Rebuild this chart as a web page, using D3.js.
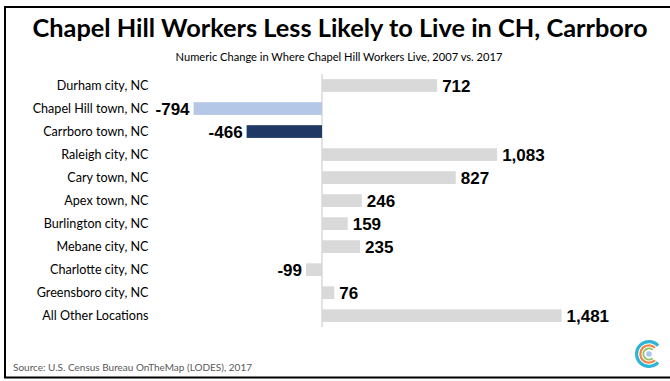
<!DOCTYPE html>
<html>
<head>
<meta charset="utf-8">
<script src="https://cdn.jsdelivr.net/npm/d3@7"></script>
<style>
  html, body { margin: 0; padding: 0; background: #fff; }
  svg { display: block; }
</style>
</head>
<body>
<svg id="chart" width="670" height="381"></svg>
<script>
// ---- data ----
const categories = [
  "Durham city, NC",
  "Chapel Hill town, NC",
  "Carrboro town, NC",
  "Raleigh city, NC",
  "Cary town, NC",
  "Apex town, NC",
  "Burlington city, NC",
  "Mebane city, NC",
  "Charlotte city, NC",
  "Greensboro city, NC",
  "All Other Locations"
];
const values = [712, -794, -466, 1083, 827, 246, 159, 235, -99, 76, 1481];
const barColors = ["#d9d9d9", "#b4c7e7", "#203864", "#d9d9d9", "#d9d9d9", "#d9d9d9", "#d9d9d9", "#d9d9d9", "#d9d9d9", "#d9d9d9", "#d9d9d9"];
const title = "Chapel Hill Workers Less Likely to Live in CH, Carrboro";
const subtitle = "Numeric Change in Where Chapel Hill Workers Live, 2007 vs. 2017";
const source = "Source: U.S. Census Bureau OnTheMap (LODES), 2017";

const svg = d3.select("#chart");

// frame
svg.append("path")
  .attr("d", "M 680 7 L 5 7 L 5 377.5 L 680 377.5")
  .attr("fill", "none")
  .attr("stroke", "#000")
  .attr("stroke-width", 2);

// title
const t = svg.append("text")
  .attr("x", 340).attr("y", 37)
  .attr("text-anchor", "middle")
  .attr("font-family", "Lato, 'Open Sans', sans-serif")
  .attr("font-weight", "bold")
  .attr("font-size", 28)
  .attr("fill", "#000")
  .text(title);
{
  const w = t.node().getComputedTextLength();
  t.attr("font-size", 28 * 615 / w);
}

const st = svg.append("text")
  .attr("x", 339).attr("y", 61)
  .attr("text-anchor", "middle")
  .attr("font-family", "Lato, 'Open Sans', sans-serif")
  .attr("font-size", 12)
  .attr("fill", "#000")
  .text(subtitle);
{
  const w = st.node().getComputedTextLength();
  st.attr("font-size", 12 * 327 / w);
}

// scales
const x = d3.scaleLinear().domain([-800, 1500]).range([192.6, 564.6]);
const y = d3.scaleBand().domain(categories).range([74, 327.2])
  .paddingInner(0.448).paddingOuter(0.224);

// category labels (axis)
const yAxis = d3.axisLeft(y).tickSize(0).tickPadding(0);
const ax = svg.append("g")
  .attr("transform", "translate(148.5,0)")
  .call(yAxis);
ax.select(".domain").remove();
ax.selectAll("text")
  .attr("font-family", "Lato, 'Open Sans', sans-serif")
  .attr("font-size", 12.6)
  .attr("fill", "#000");

// zero line
svg.append("line")
  .attr("x1", x(0)).attr("x2", x(0))
  .attr("y1", 74).attr("y2", 327)
  .attr("stroke", "#d9d9d9")
  .attr("stroke-width", 1.5);

// bars
svg.append("g").selectAll("rect")
  .data(categories)
  .join("rect")
  .attr("x", (d, i) => x(Math.min(0, values[i])))
  .attr("width", (d, i) => Math.abs(x(values[i]) - x(0)))
  .attr("y", d => y(d))
  .attr("height", y.bandwidth())
  .attr("fill", (d, i) => barColors[i]);

// value labels
const fmt = v => d3.format(",")(v).replace("\u2212", "-");
svg.append("g").selectAll("text")
  .data(categories)
  .join("text")
  .attr("x", (d, i) => values[i] >= 0 ? x(values[i]) + 5 : x(values[i]) - 4)
  .attr("y", d => y(d) + y.bandwidth() / 2)
  .attr("dy", "0.36em")
  .attr("text-anchor", (d, i) => values[i] >= 0 ? "start" : "end")
  .attr("font-family", "'Liberation Sans', Arial, sans-serif")
  .attr("font-weight", "bold")
  .attr("font-size", 17)
  .attr("fill", "#000")
  .text((d, i) => fmt(values[i]));

// source
svg.append("text")
  .attr("x", 13).attr("y", 371)
  .attr("font-family", "Lato, 'Open Sans', sans-serif")
  .attr("font-size", 10)
  .attr("fill", "#595959")
  .text(source);

// logo
const logo = svg.append("g").attr("transform", "translate(649,354)");
const rings = [
  { r0: 10.8, r1: 14, c: "#2bb5d6", a: 0.75 },
  { r0: 7.5, r1: 9.8, c: "#f0874a", a: 0.8 },
  { r0: 4.6, r1: 6.5, c: "#8cc56a", a: 0.85 }
];
rings.forEach(rg => {
  logo.append("path")
    .attr("d", d3.arc()({ innerRadius: rg.r0, outerRadius: rg.r1, startAngle: Math.PI / 2 + rg.a, endAngle: Math.PI / 2 + 2 * Math.PI - rg.a, cornerRadius: 1 }))
    .attr("fill", rg.c);
});
logo.append("circle").attr("r", 2.8).attr("fill", "#a8c4ef");
</script>
</body>
</html>
